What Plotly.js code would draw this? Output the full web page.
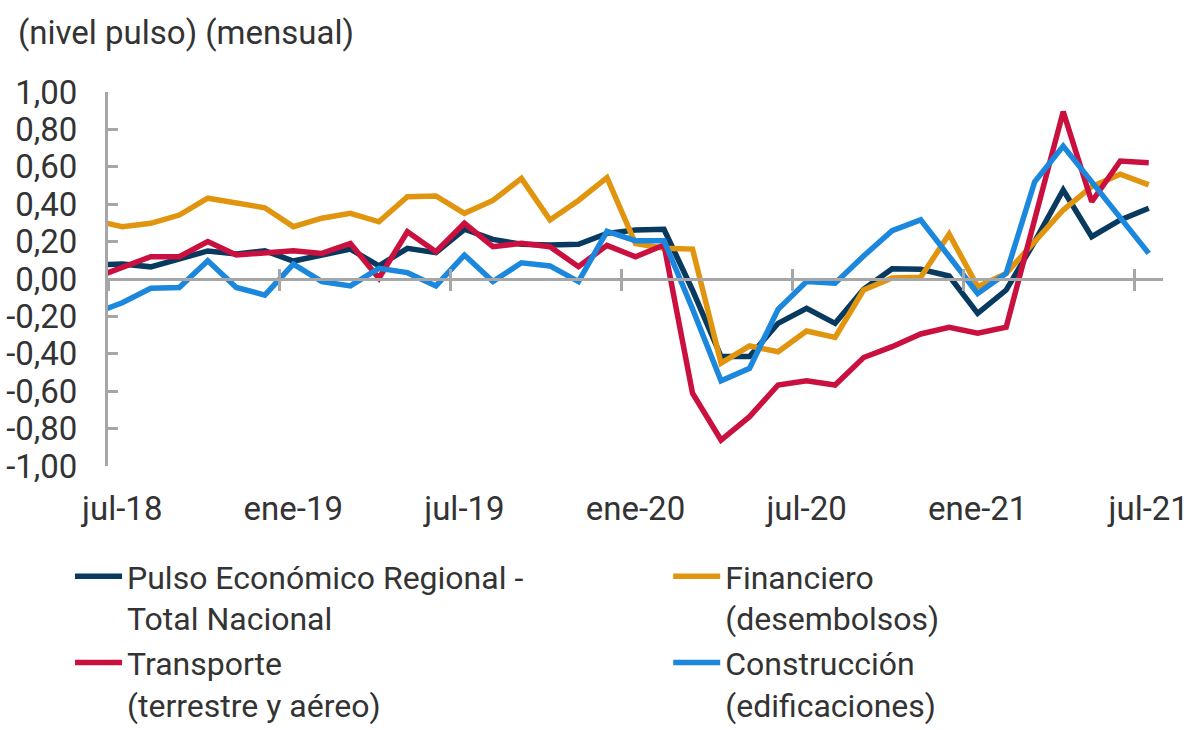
<!DOCTYPE html>
<html>
<head>
<meta charset="utf-8">
<script src="https://cdn.plot.ly/plotly-3.0.1.min.js"></script>
<style>html,body{margin:0;padding:0;background:#fff;}#chart{width:1200px;height:730px;}</style>
</head>
<body>
<div id="chart"></div>
<script>
// Months (jun-18 is partially visible at the left edge)
const months = ['jun-18','jul-18','ago-18','sep-18','oct-18','nov-18','dic-18',
  'ene-19','feb-19','mar-19','abr-19','may-19','jun-19','jul-19','ago-19','sep-19','oct-19','nov-19','dic-19',
  'ene-20','feb-20','mar-20','abr-20','may-20','jun-20','jul-20','ago-20','sep-20','oct-20','nov-20','dic-20',
  'ene-21','feb-21','mar-21','abr-21','may-21','jun-21','jul-21'];

const tickLabels = ['jul-18','ene-19','jul-19','ene-20','jul-20','ene-21','jul-21'];

const pulsoTotal = [0.075, 0.08, 0.065, 0.11, 0.15, 0.134, 0.151, 0.096, 0.128, 0.16, 0.07, 0.164, 0.141, 0.266, 0.212, 0.186, 0.182, 0.186, 0.244, 0.262, 0.266, -0.06, -0.415, -0.415, -0.237, -0.157, -0.237, -0.055, 0.055, 0.052, 0.016, -0.184, -0.059, 0.2, 0.476, 0.226, 0.316, 0.378];
const financiero = [0.314, 0.28, 0.298, 0.342, 0.432, 0.405, 0.381, 0.28, 0.325, 0.351, 0.306, 0.44, 0.444, 0.351, 0.42, 0.538, 0.316, 0.42, 0.542, 0.19, 0.165, 0.16, -0.45, -0.358, -0.389, -0.278, -0.312, -0.059, 0.005, 0.009, 0.24, -0.041, 0.03, 0.2, 0.369, 0.494, 0.56, 0.503];
const transporte = [0.005, 0.06, 0.119, 0.119, 0.2, 0.128, 0.137, 0.151, 0.137, 0.19, 0.004, 0.253, 0.146, 0.298, 0.173, 0.191, 0.173, 0.066, 0.18, 0.119, 0.182, -0.611, -0.861, -0.736, -0.567, -0.544, -0.567, -0.42, -0.362, -0.294, -0.258, -0.29, -0.258, 0.32, 0.895, 0.413, 0.631, 0.622];
const construccion = [-0.185, -0.127, -0.05, -0.045, 0.098, -0.045, -0.086, 0.08, -0.014, -0.037, 0.057, 0.034, -0.037, 0.128, -0.014, 0.087, 0.07, -0.014, 0.255, 0.205, 0.205, -0.16, -0.544, -0.478, -0.162, -0.014, -0.023, 0.123, 0.258, 0.316, 0.12, -0.077, 0.03, 0.52, 0.711, 0.52, 0.33, 0.137];

const names = ['Pulso Económico Regional -<br>Total Nacional', 'Financiero<br>(desembolsos)', 'Transporte<br>(terrestre y aéreo)', 'Construcción<br>(edificaciones)'];
const colors = ['#08395f', '#e1950f', '#c9103e', '#1b88de'];
const yTicks = [1, 0.8, 0.6, 0.4, 0.2, 0, -0.2, -0.4, -0.6, -0.8, -1];

const series = [pulsoTotal, financiero, transporte, construccion];
const legends = ['legend', 'legend2', 'legend', 'legend2'];

const xIdx = months.map((m, i) => i);
const traces = series.map((s, i) => ({
  type: 'scatter', mode: 'lines', x: months, y: s, name: names[i],
  line: {color: colors[i], width: 5.5}, legend: legends[i], hoverinfo: 'x+y'
}));
// empty helper traces so the zero-line axes (tick marks crossing the line) get drawn
const helperTraces = ['x2', 'x3'].map(ax => ({
  type: 'scatter', mode: 'lines', x: xIdx, y: xIdx.map(() => null), xaxis: ax, yaxis: 'y',
  showlegend: false, hoverinfo: 'skip', line: {width: 0}
}));

const xr = [0.5, months.length - 0.5];
const boundaryTicks = tickLabels.map(t => months.indexOf(t) - 0.5);
const gray = '#a6a6a6';
const FONT = 'Roboto, "Noto Sans", sans-serif';
const fs = 33;
const lfs = 32;

const layout = {
  width: 1200, height: 730,
  paper_bgcolor: '#fff', plot_bgcolor: '#fff',
  font: {family: FONT, size: fs, color: '#333333'},
  margin: {l: 108, r: 37, t: 92, b: 264, autoexpand: false},
  title: {text: '(nivel pulso) (mensual)', x: 0.015, xanchor: 'left', xref: 'container',
          y: 1 - 32/730, yanchor: 'middle', yref: 'container', font: {size: fs, color: '#333333'}},
  showlegend: true,
  xaxis: {type: 'category', range: xr, tickmode: 'array', tickvals: tickLabels, ticktext: tickLabels,
          ticks: '', showline: false, showgrid: false, zeroline: false,
          ticklabelstandoff: 20, tickfont: {size: fs, color: '#333333'}},
  xaxis2: {overlaying: 'x', anchor: 'free', position: 0.5, type: 'linear', range: xr,
           tickmode: 'array', tickvals: boundaryTicks, ticks: 'outside', ticklen: 10, tickwidth: 3, tickcolor: gray,
           showline: true, linecolor: gray, linewidth: 3, showticklabels: false, showgrid: false, zeroline: false},
  xaxis3: {overlaying: 'x', anchor: 'free', position: 0.5, type: 'linear', range: xr,
           tickmode: 'array', tickvals: boundaryTicks, ticks: 'inside', ticklen: 10, tickwidth: 3, tickcolor: gray,
           showline: false, showticklabels: false, showgrid: false, zeroline: false},
  yaxis: {range: [-1, 1], tickmode: 'array', tickvals: yTicks,
          ticktext: yTicks.map(v => v.toFixed(2).replace('.', ',')),
          ticks: 'inside', ticklen: 10, tickwidth: 3, tickcolor: gray,
          showline: true, linecolor: gray, linewidth: 3, showgrid: false, zeroline: false,
          ticklabelstandoff: 21, tickfont: {size: fs, color: '#333333'}},
  legend: {x: -0.036, xanchor: 'left', y: -0.222, yanchor: 'top', orientation: 'v',
           valign: 'top', itemwidth: 47, font: {size: lfs, color: '#333333'}, bgcolor: 'rgba(0,0,0,0)'},
  legend2: {x: 0.531, xanchor: 'left', y: -0.222, yanchor: 'top', orientation: 'v',
           valign: 'top', itemwidth: 47, font: {size: lfs, color: '#333333'}, bgcolor: 'rgba(0,0,0,0)'}
};

Plotly.newPlot('chart', traces.concat(helperTraces), layout, {displayModeBar: false, staticPlot: true});
</script>
</body>
</html>
